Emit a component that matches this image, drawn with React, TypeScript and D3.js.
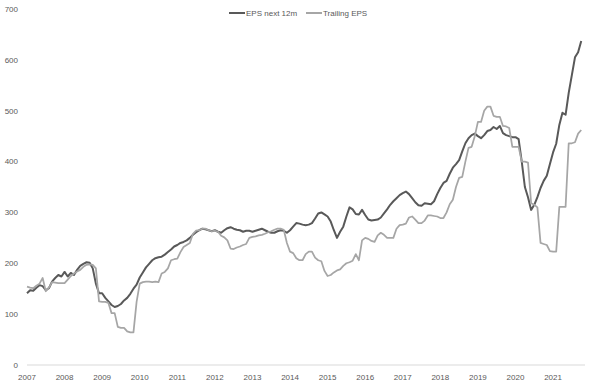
import React from 'react';
import * as d3 from 'd3';

// monthly values, Jan 2007 .. Oct 2021
const startYear = 2007;

const epsNext12m = [
  141, 147, 146, 152, 157, 155, 147, 151, 164, 171, 177, 174, // 2007
  183, 174, 181, 177, 187, 195, 199, 202, 201, 190, 160, 141, // 2008
  141, 132, 125, 118, 114, 116, 120, 127, 132, 140, 150, 158, // 2009
  172, 182, 192, 199, 206, 210, 212, 213, 217, 222, 227, 233, // 2010
  236, 240, 242, 245, 250, 256, 261, 265, 268, 267, 265, 263, // 2011
  265, 262, 260, 265, 269, 271, 268, 266, 265, 262, 264, 264, // 2012
  262, 264, 266, 268, 265, 262, 260, 260, 263, 265, 264, 260, // 2013
  265, 272, 279, 278, 276, 275, 276, 279, 288, 298, 300, 296, // 2014
  292, 282, 265, 250, 262, 272, 292, 310, 306, 297, 296, 305, // 2015
  295, 286, 284, 285, 286, 290, 298, 306, 315, 322, 328, 334, // 2016
  338, 341, 336, 328, 320, 314, 313, 318, 317, 316, 322, 336, // 2017
  348, 358, 362, 376, 388, 395, 403, 420, 436, 446, 452, 455, // 2018
  450, 446, 452, 460, 462, 468, 464, 470, 456, 452, 450, 448, // 2019
  448, 444, 400, 350, 330, 305, 315, 330, 348, 362, 372, 395, // 2020
  418, 435, 472, 496, 492, 535, 570, 605, 615, 637, // 2021
];

const trailingEps = [
  154, 152, 151, 156, 160, 171, 145, 152, 163, 162, 161, 161, // 2007
  161, 168, 175, 180, 184, 187, 193, 197, 198, 197, 190, 125, // 2008
  124, 124, 122, 102, 102, 75, 73, 73, 66, 64, 64, 124, // 2009
  160, 163, 164, 164, 163, 164, 163, 180, 183, 190, 206, 208, // 2010
  209, 222, 232, 236, 240, 258, 264, 265, 268, 268, 265, 263, // 2011
  264, 262, 254, 251, 245, 229, 228, 231, 233, 236, 238, 250, // 2012
  252, 253, 255, 256, 258, 261, 263, 266, 268, 268, 266, 240, // 2013
  223, 220, 210, 206, 206, 218, 223, 223, 211, 206, 204, 185, // 2014
  175, 177, 182, 186, 188, 195, 200, 202, 205, 218, 206, 245, // 2015
  250, 248, 244, 242, 255, 260, 256, 250, 250, 250, 268, 275, // 2016
  276, 278, 290, 292, 286, 279, 279, 284, 294, 294, 293, 292, // 2017
  289, 289, 300, 316, 325, 350, 368, 370, 400, 427, 429, 450, // 2018
  478, 478, 500, 508, 508, 490, 488, 488, 470, 469, 466, 429, // 2019
  429, 429, 400, 400, 398, 318, 315, 310, 240, 238, 236, 224, // 2020
  223, 223, 311, 311, 311, 436, 436, 438, 455, 462, // 2021
];

const yTicks = [0, 100, 200, 300, 400, 500, 600, 700];
const xTickYears = d3.range(2007, 2022);

const seriesNames = ['EPS next 12m', 'Trailing EPS'];
const seriesColors = ['#595959', '#a6a6a6'];

const W = 590;
const H = 386;
const font = '"Liberation Sans", Arial, sans-serif';

export default function App() {
  const x = d3.scaleLinear().domain([2007, 2021.85]).range([27, 585]);
  const y = d3.scaleLinear().domain([0, 700]).range([365, 9]);

  const line = d3
    .line<number>()
    .x((_, i) => x(startYear + i / 12))
    .y((d) => y(d));

  const series = [epsNext12m, trailingEps];

  return (
    <svg
      width={W}
      height={H}
      style={{ position: 'absolute', left: 0, top: 0, background: '#fff' }}
      fontFamily={font}
    >
      <rect width={W} height={H} fill="#fff" />

      {/* y labels */}
      {yTicks.map((t) => (
        <text key={t} x={18} y={y(t)} dy="0.35em" textAnchor="end" fontSize={8} fill="#595959">
          {t}
        </text>
      ))}

      {/* x axis */}
      <line x1={x.range()[0]} x2={x.range()[1]} y1={y(0)} y2={y(0)} stroke="#d9d9d9" strokeWidth={1} />
      {xTickYears.map((yr) => (
        <text key={yr} x={x(yr)} y={380} textAnchor="middle" fontSize={8} fill="#595959">
          {yr}
        </text>
      ))}

      {/* lines */}
      {series.map((s, i) => (
        <path
          key={seriesNames[i]}
          d={line(s) || ''}
          fill="none"
          stroke={seriesColors[i]}
          strokeWidth={i === 0 ? 2 : 1.75}
          strokeLinejoin="round"
        />
      ))}

      {/* legend */}
      <g fontSize={8} fill="#595959">
        <line x1={229} x2={245} y1={13} y2={13} stroke={seriesColors[0]} strokeWidth={2} />
        <text x={246} y={13} dy="0.35em">{seriesNames[0]}</text>
        <line x1={306} x2={322} y1={13} y2={13} stroke={seriesColors[1]} strokeWidth={2} />
        <text x={323} y={13} dy="0.35em">{seriesNames[1]}</text>
      </g>
    </svg>
  );
}
